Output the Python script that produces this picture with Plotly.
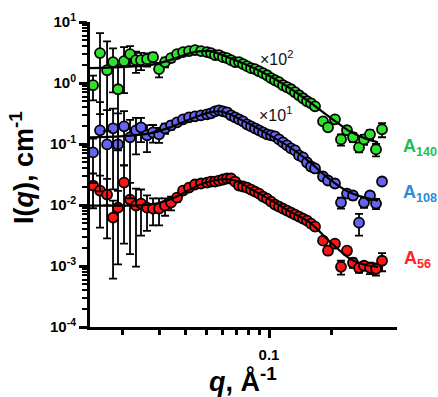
import numpy as np
import plotly.graph_objects as go

# ---------------- data ----------------
q = [0.01438, 0.01553, 0.01679, 0.01793, 0.01894, 0.02024, 0.02162, 0.02309, 0.02440, 0.02607,
     0.02786, 0.02976, 0.03180, 0.03397, 0.03629, 0.03877, 0.04142, 0.04424, 0.04727, 0.05050,
     0.05277, 0.05515, 0.05764, 0.06023, 0.06295, 0.06578, 0.06875, 0.07185, 0.07509, 0.07846,
     0.08200, 0.08570, 0.08956, 0.09360, 0.09781, 0.10223, 0.10683, 0.11165, 0.11668, 0.12194,
     0.12743, 0.13317, 0.13917, 0.14544, 0.15199, 0.15883, 0.16599, 0.18129, 0.19155, 0.20682,
     0.22098, 0.23610, 0.25227, 0.26952, 0.28475, 0.30416, 0.32509, 0.34733]

# A140 (shown x10^2)
I_A140 = [0.920, 3.09, 1.62, 2.20, 0.79, 2.28, 2.98, 2.37, 2.37, 2.46,
          2.65, 1.69, 2.20, 2.56, 2.98, 3.21, 3.34, 3.46, 3.34, 3.21,
          3.09, 2.87, 2.87, 2.65, 2.56, 2.37, 2.20, 2.20, 2.04, 1.89,
          1.75, 1.69, 1.56, 1.45, 1.34, 1.20, 1.11, 1.03, 0.920, 0.853,
          0.790, 0.706, 0.630, 0.562, 0.502, 0.465, 0.415, 0.235, 0.188, 0.254,
          0.119, 0.168, 0.129, 0.088, 0.119, 0.144, 0.0815, 0.174]
E_A140 = [0.4, 3.5, 3.2, 1.5, 1.2, 1.6, 1.05, 0.9, 0.75, 0.6,
          0.5, 0.45, 0.4, 0.35, 0.3, 0.25, 0.2, 0.18, 0.15, 0.13,
          0.12, 0.11, 0.10, 0.09, 0.085, 0.08, 0.075, 0.07, 0.065, 0.06,
          0.055, 0.05, 0.045, 0.042, 0.04, 0.036, 0.033, 0.03, 0.028, 0.026,
          0.024, 0.022, 0.02, 0.019, 0.018, 0.017, 0.016, 0.02, 0.018, 0.02,
          0.025, 0.02, 0.022, 0.015, 0.022, 0.025, 0.019, 0.045]

# A108 (shown x10^1)
I_A108 = [0.0728, 0.1675, 0.0985, 0.181, 0.0985, 0.195, 0.1285, 0.1675, 0.1875, 0.1385,
          0.155, 0.144, 0.181, 0.2023, 0.2266, 0.254, 0.274, 0.2845, 0.2955, 0.307,
          0.3186, 0.3435, 0.357, 0.3435, 0.331, 0.2955, 0.274, 0.254, 0.2355, 0.210,
          0.195, 0.181, 0.1675, 0.155, 0.144, 0.1385, 0.1333, 0.119, 0.1062, 0.0948,
          0.0847, 0.0785, 0.0649, 0.0602, 0.0498, 0.0428, 0.0397, 0.0293, 0.0252, 0.0225,
          0.01094, 0.0154, 0.0143, 0.00514, 0.01094, 0.0143, 0.01054, 0.0243]
E_A108 = [0.05, 0.32, 0.26, 0.2, 0.22, 0.15, 0.12, 0.1, 0.08, 0.065,
          0.05, 0.04, 0.035, 0.03, 0.025, 0.02, 0.018, 0.016, 0.014, 0.013,
          0.012, 0.012, 0.011, 0.011, 0.010, 0.010, 0.009, 0.009, 0.008, 0.008,
          0.007, 0.007, 0.0065, 0.006, 0.0058, 0.0055, 0.005, 0.0048, 0.0045, 0.0042,
          0.004, 0.0036, 0.0032, 0.003, 0.0026, 0.0024, 0.0022, 0.002, 0.0022, 0.002,
          0.0022, 0.002, 0.002, 0.002, 0.002, 0.0018, 0.002, 0.0025]

# A56
I_A56 = [0.02085, 0.01725, 0.01483, 0.00621, 0.00906, 0.02333, 0.01227, 0.00977, 0.01054, 0.00906,
         0.00873, 0.00873, 0.00977, 0.01094, 0.01324, 0.01725, 0.01932, 0.02166, 0.0225, 0.02333,
         0.02425, 0.02425, 0.02518, 0.02618, 0.02718, 0.02718, 0.02425, 0.02085, 0.0201, 0.01932,
         0.0179, 0.0166, 0.0154, 0.01374, 0.01274, 0.01137, 0.01015, 0.00942, 0.00873, 0.0081,
         0.0075, 0.00695, 0.00645, 0.00598, 0.00554, 0.00494, 0.00441, 0.0026, 0.00178, 0.00232,
         0.00097, 0.00178, 0.00113, 0.000934, 0.00101, 0.000934, 0.000899, 0.00122]
E_A56 = [0.012, 0.013, 0.012, 0.0056, 0.008, 0.021, 0.0107, 0.0088, 0.0074, 0.0053,
         0.0041, 0.0041, 0.0031, 0.0028, 0.002, 0.0016, 0.0013, 0.0011, 0.001, 0.0009,
         0.0008, 0.0008, 0.0007, 0.0007, 0.0007, 0.0006, 0.0006, 0.0006, 0.0005, 0.0005,
         0.0005, 0.0005, 0.0004, 0.0004, 0.0004, 0.0004, 0.0003, 0.0003, 0.0003, 0.0003,
         0.0003, 0.0003, 0.0003, 0.0002, 0.0002, 0.0002, 0.0002, 0.0002, 0.0002, 0.0002,
         0.00025, 0.0002, 0.0002, 0.00016, 0.00015, 0.0002, 0.0002, 0.0004]

# model fits
q_fit = [0.01391, 0.01937, 0.02695, 0.03360, 0.04188, 0.04677, 0.05219, 0.05829, 0.06506, 0.07264,
         0.08110, 0.10111, 0.12603, 0.15710, 0.19571, 0.24399, 0.28793, 0.33225]
fit_A140 = [1.752, 1.819, 1.963, 2.371, 3.091, 3.334, 3.334, 2.977, 2.558, 2.198,
            1.889, 1.294, 0.821, 0.483, 0.274, 0.161, 0.1237, 0.1063]
fit_A108 = [0.1284, 0.1334, 0.1494, 0.1875, 0.2538, 0.2955, 0.3309, 0.3437, 0.3067, 0.2538,
            0.2101, 0.1385, 0.0879, 0.0498, 0.02617, 0.0160, 0.01323, 0.01181]
fit_A56 = [0.00977, 0.00977, 0.01015, 0.01227, 0.01791, 0.02165, 0.02425, 0.02617, 0.02617, 0.02335,
           0.01861, 0.01227, 0.00779, 0.00514, 0.0025, 0.001314, 0.001046, 0.00097]

series_names = ["A56", "A108", "A140"]
series_colors = ["#ff1414", "#6464f0", "#2fe02f"]
label_colors = ["#ff2222", "#2a8ad6", "#1cbf52"]

y_tick_vals = [1e-4, 1e-3, 1e-2, 1e-1, 1e0, 1e1]
y_tick_text = ["<b>10<sup>-4</sup></b>", "<b>10<sup>-3</sup></b>", "<b>10<sup>-2</sup></b>",
               "<b>10<sup>-1</sup></b>", "<b>10<sup>0</sup></b>", "<b>10<sup>1</sup></b>"]
x_tick_vals = [0.1]
x_tick_text = ["<b>0.1</b>"]
x_minor_vals = [0.02, 0.03, 0.04, 0.05, 0.06, 0.07, 0.08, 0.09, 0.2]
y_minor_vals = [m * d for d in [1e-4, 1e-3, 1e-2, 1e-1, 1e0] for m in range(2, 10)]

FONT = "Arial, Liberation Sans, sans-serif"

fig = go.Figure()
data_I = [I_A56, I_A108, I_A140]
data_E = [E_A56, E_A108, E_A140]
fits = [fit_A56, fit_A108, fit_A140]

for name, I, E, col in zip(series_names, data_I, data_E, series_colors):
    I = np.array(I)
    E = np.array(E)
    Em = np.minimum(E, 0.9 * I)
    fig.add_trace(go.Scatter(
        x=q, y=I, mode="markers", name=name, showlegend=False, cliponaxis=False,
        marker=dict(size=10, color=col, line=dict(color="black", width=1.8)),
        error_y=dict(type="data", array=E, arrayminus=Em, color="black",
                     thickness=1.8, width=4),
    ))

for name, f in zip(series_names, fits):
    fig.add_trace(go.Scatter(
        x=q_fit, y=f, mode="lines", showlegend=False, cliponaxis=False,
        line=dict(color="black", width=2.2, shape="spline", smoothing=0.8),
    ))

L, R, T, B = 90, 41, 22, 70
fig.update_layout(
    width=438, height=397,
    margin=dict(l=L, r=R, t=T, b=B),
    paper_bgcolor="white", plot_bgcolor="white",
    font=dict(family=FONT, color="black"),
    xaxis=dict(
        type="log", range=[np.log10(0.01391), -0.3876],
        showline=True, linecolor="black", linewidth=3, mirror=False,
        showgrid=False, zeroline=False,
        ticks="outside", ticklen=8, tickwidth=3, tickcolor="black",
        tickvals=x_tick_vals, ticktext=x_tick_text,
        tickfont=dict(size=15, family=FONT, color="black"),
        ticklabelstandoff=4,
        minor=dict(tickvals=x_minor_vals, ticks="outside", ticklen=5,
                   tickwidth=3, tickcolor="black", showgrid=False),
    ),
    yaxis=dict(
        type="log", range=[-4, 1],
        showline=True, linecolor="black", linewidth=3,
        showgrid=False, zeroline=False,
        ticks="outside", ticklen=8, tickwidth=3, tickcolor="black",
        tickvals=y_tick_vals, ticktext=y_tick_text,
        tickfont=dict(size=15, family=FONT, color="black"),
        minor=dict(tickvals=y_minor_vals, ticks="outside", ticklen=5,
                   tickwidth=2, tickcolor="black", showgrid=False),
    ),
)

W = 438 - L - R
H = 397 - T - B


def px(x):
    return (x - L) / W


def py(y):
    return (397 - B - y) / H


ann = [
    dict(text="×10<sup>2</sup>", x=px(276), y=py(58), size=16, color="#111", anchor="center"),
    dict(text="×10<sup>1</sup>", x=px(275), y=py(114), size=16, color="#111", anchor="center"),
    dict(text="<b>A<sub>140</sub></b>", x=px(401), y=py(147), size=18, color=label_colors[2], anchor="left"),
    dict(text="<b>A<sub>108</sub></b>", x=px(401), y=py(193), size=18, color=label_colors[1], anchor="left"),
    dict(text="<b>A<sub>56</sub></b>", x=px(402), y=py(259), size=18, color=label_colors[0], anchor="left"),
]
for a in ann:
    fig.add_annotation(text=a["text"], x=a["x"], y=a["y"], xref="paper", yref="paper",
                       showarrow=False, xanchor=a["anchor"], yanchor="middle",
                       font=dict(size=a["size"], color=a["color"], family=FONT))

fig.add_annotation(text="<b>I(<i>q</i>), cm<sup>-1</sup></b>", x=px(22), y=py(168),
                   xref="paper", yref="paper", showarrow=False, textangle=-90,
                   xanchor="center", yanchor="middle",
                   font=dict(size=27, color="black", family=FONT))
fig.add_annotation(text="<b><i>q</i>, Å<sup>-1</sup></b>", x=px(243), y=py(380),
                   xref="paper", yref="paper", showarrow=False,
                   xanchor="center", yanchor="middle",
                   font=dict(size=27, color="black", family=FONT))

fig.write_html("out.html", config={"displayModeBar": False},
               post_script="document.body.style.margin='0';document.body.style.padding='0';")
